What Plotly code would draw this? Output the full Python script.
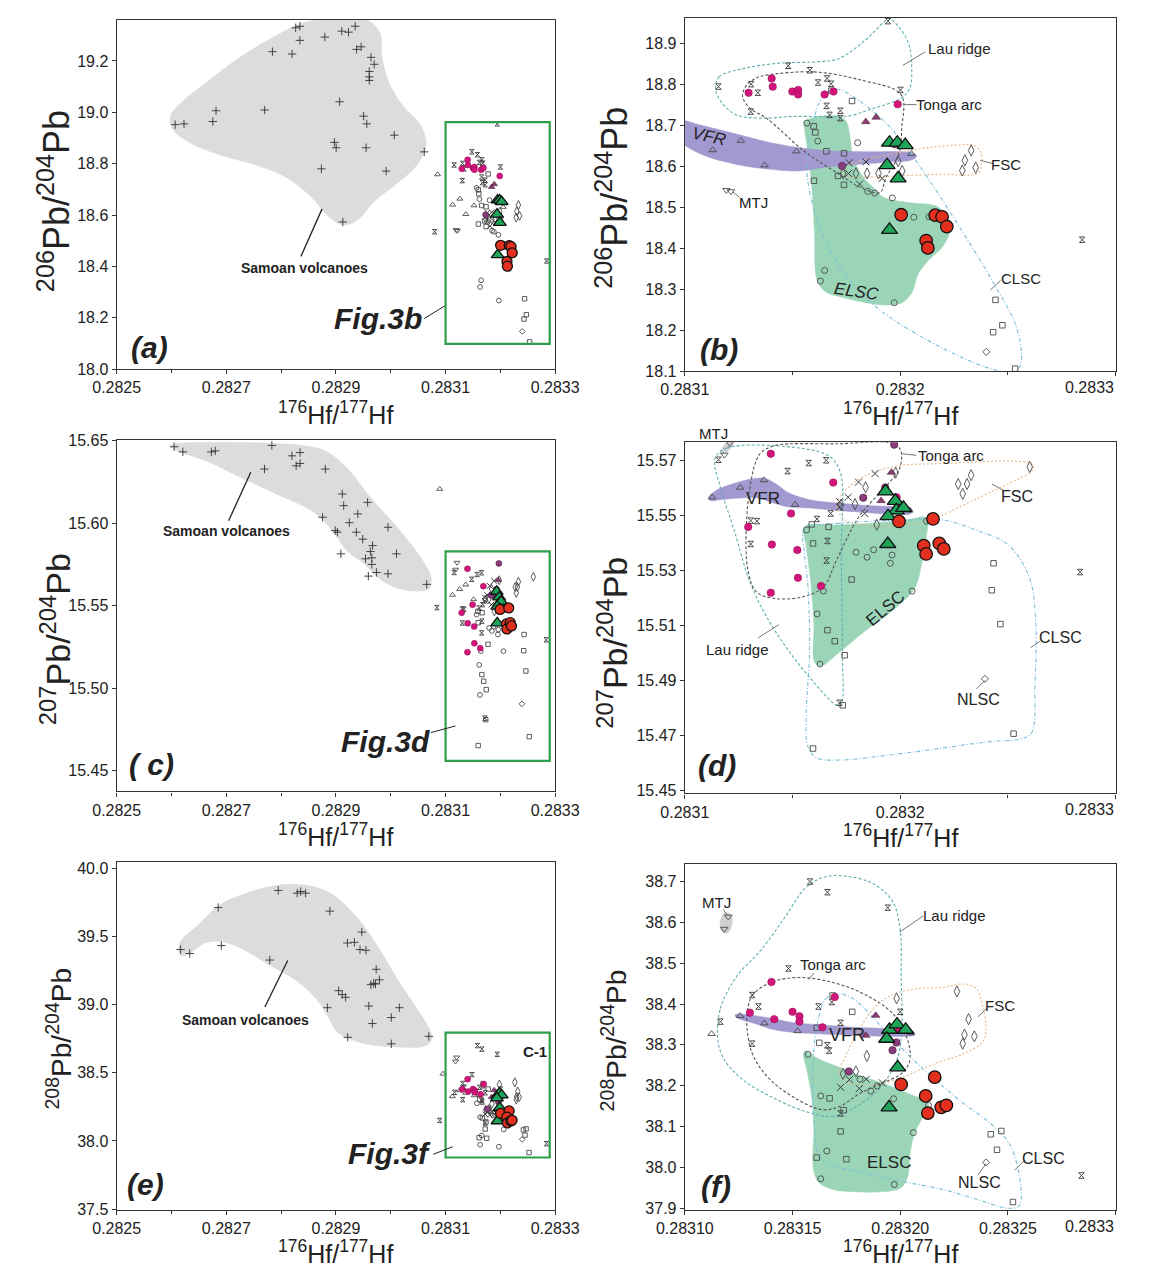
import plotly.graph_objects as go

FONT = "Liberation Sans, Arial, sans-serif"
TXT = "#222222"

# ======================= DATA: 206Pb/204Pb vs 176Hf/177Hf (panels a, b) =======================
samoan_hf_206 = [0.2826067, 0.2826228, 0.2826754, 0.2826812, 0.2827699, 0.2827841, 0.2828200, 0.2828265,
                 0.2828342, 0.2828342, 0.2828798, 0.2829107, 0.2829229, 0.2829351, 0.2829377, 0.2829460,
                 0.2829640, 0.2829698, 0.2829608, 0.2829608, 0.2829608, 0.2829068, 0.2829505, 0.2829563,
                 0.2828972, 0.2829004, 0.2829550, 0.2830064, 0.2830611, 0.2828734, 0.2829916, 0.2829126]
samoan_pb_206 = [18.952, 18.955, 18.964, 19.006, 19.009, 19.236, 19.227, 19.329,
                 19.335, 19.280, 19.293, 19.316, 19.312, 19.335, 19.245, 19.255,
                 19.214, 19.187, 19.159, 19.138, 19.124, 19.041, 18.985, 18.955,
                 18.883, 18.862, 18.862, 18.911, 18.846, 18.780, 18.771, 18.573]

tonga_hf_206 = [0.2831296, 0.2831403, 0.2831408, 0.2831499, 0.2831526, 0.2831526, 0.2831649, 0.2831690, 0.2831988]
tonga_pb_206 = [18.780, 18.815, 18.795, 18.783, 18.787, 18.776, 18.776, 18.783, 18.752]
pcirc_hf_206 = [0.2831730, 0.2831975]
pcirc_pb_206 = [18.601, 18.654]
ptri_hf_206 = [0.2831840, 0.2831888]
ptri_pb_206 = [18.709, 18.720]
green_hf_206 = [0.2831950, 0.2831986, 0.2832023, 0.2831939, 0.2831990, 0.2831950]
green_pb_206 = [18.658, 18.658, 18.652, 18.603, 18.571, 18.445]
red_hf_206 = [0.2832004, 0.2832162, 0.2832194, 0.2832216, 0.2832120, 0.2832128]
red_pb_206 = [18.482, 18.481, 18.477, 18.453, 18.419, 18.401]
vfr_hf_206 = [0.2831129, 0.2831260, 0.2831370, 0.2831518, 0.2832052, 0.2830854]
vfr_pb_206 = [18.640, 18.663, 18.603, 18.637, 18.631, 18.758]
mtj_hf_206 = [0.2831193, 0.2831214]
mtj_pb_206 = [18.542, 18.539]
lau_hf_206 = [0.2831156, 0.2831308, 0.2831339, 0.2831306, 0.2831480, 0.2831580, 0.2831618, 0.2831660, 0.2831679,
              0.2831658, 0.2831672, 0.2831722, 0.2831722, 0.2831943, 0.2832001, 0.2832844, 0.2830802]
lau_pb_206 = [18.795, 18.801, 18.780, 18.734, 18.846, 18.835, 18.805, 18.815, 18.802,
              18.748, 18.726, 18.736, 18.718, 18.955, 18.787, 18.421, 18.535]
xm_hf_206 = [0.2831762, 0.2831841, 0.2831760, 0.2831811, 0.2831916]
xm_pb_206 = [18.609, 18.611, 18.583, 18.557, 18.571]
elsc_hf_206 = [0.2831566, 0.2831617, 0.2831802, 0.2831849, 0.2831881, 0.2831963, 0.2832063, 0.2832133,
               0.2831649, 0.2831629, 0.2831972]
elsc_pb_206 = [18.706, 18.662, 18.658, 18.539, 18.535, 18.523, 18.476, 18.477, 18.346, 18.320, 18.267]
clsc_hf_206 = [0.2831598, 0.2831606, 0.2831657, 0.2831739, 0.2831711, 0.2831739, 0.2831599, 0.2831680,
               0.2831776, 0.2832442, 0.2832474, 0.2832431, 0.2832533]
clsc_pb_206 = [18.698, 18.683, 18.637, 18.632, 18.577, 18.555, 18.565, 18.785, 18.760, 18.274, 18.212, 18.195, 18.106]
fsc_hf_206 = [0.2831735, 0.2831794, 0.2831846, 0.2831899, 0.2831990, 0.2832009, 0.2832329, 0.2832300, 0.2832288, 0.2832350]
fsc_pb_206 = [18.583, 18.583, 18.583, 18.583, 18.613, 18.589, 18.639, 18.615, 18.590, 18.597]
nlsc_hf_206 = [0.2832399]
nlsc_pb_206 = [18.147]

# field outlines (206)
samoan_fld_hf_206 = [0.2825983, 0.2826176, 0.2826626, 0.2827269, 0.2827911, 0.2828425, 0.2829068, 0.2829582, 0.2829807,
                     0.2829839, 0.2829968, 0.2830225, 0.2830546, 0.2830643, 0.2830482, 0.2830096, 0.2829711, 0.2829389,
                     0.2829132, 0.2828875, 0.2828554, 0.2828104, 0.2827526, 0.2826883, 0.2826305, 0.2826015]
samoan_fld_pb_206 = [18.987, 19.038, 19.115, 19.217, 19.299, 19.350, 19.363, 19.357, 19.306,
                     19.217, 19.115, 19.025, 18.949, 18.873, 18.796, 18.720, 18.656, 18.580,
                     18.561, 18.592, 18.669, 18.745, 18.796, 18.834, 18.885, 18.936]
vfr_fld_hf_206 = [0.2830976, 0.2831080, 0.2831239, 0.2831398, 0.2831558, 0.2831717, 0.2831876, 0.2832004, 0.2832060,
                  0.2832076, 0.2832052, 0.2831956, 0.2831797, 0.2831637, 0.2831526, 0.2831398, 0.2831239, 0.2831080, 0.2830984]
vfr_fld_pb_206 = [18.710, 18.700, 18.679, 18.658, 18.644, 18.637, 18.636, 18.636, 18.633,
                  18.625, 18.616, 18.611, 18.605, 18.597, 18.589, 18.593, 18.605, 18.629, 18.662]
elsc_fld_hf_206 = [0.2831558, 0.2831621, 0.2831717, 0.2831749, 0.2831765, 0.2831781, 0.2831829, 0.2831876, 0.2831924,
                   0.2832036, 0.2832163, 0.2832211, 0.2832235, 0.2832195, 0.2832131, 0.2832084, 0.2832052, 0.2832004,
                   0.2831908, 0.2831813, 0.2831717, 0.2831653, 0.2831614, 0.2831602, 0.2831590, 0.2831566, 0.2831555]
elsc_fld_pb_206 = [18.710, 18.722, 18.722, 18.710, 18.678, 18.621, 18.573, 18.548, 18.524,
                   18.512, 18.504, 18.484, 18.452, 18.403, 18.371, 18.338, 18.290, 18.266,
                   18.262, 18.270, 18.282, 18.294, 18.322, 18.435, 18.548, 18.654, 18.694]
lau_fld_hf_206 = [0.2831143, 0.2831159, 0.2831271, 0.2831430, 0.2831622, 0.2831717, 0.2831845, 0.2831924, 0.2831948,
                  0.2831988, 0.2832036, 0.2832052, 0.2832044, 0.2832004, 0.2831876, 0.2831749, 0.2831637, 0.2831494,
                  0.2831367, 0.2831239, 0.2831167]
lau_fld_pb_206 = [18.791, 18.819, 18.839, 18.852, 18.856, 18.864, 18.912, 18.953, 18.961,
                  18.944, 18.904, 18.856, 18.791, 18.767, 18.742, 18.722, 18.722, 18.722,
                  18.718, 18.726, 18.759]
tonga_fld_hf_206 = [0.2831379, 0.2831599, 0.2831818, 0.2832004, 0.2832007, 0.2831993, 0.2831934, 0.2831905,
                    0.2831818, 0.2831716, 0.2831555, 0.2831379, 0.2831303, 0.2831268, 0.2831287, 0.2831335]
tonga_fld_pb_206 = [18.823, 18.831, 18.811, 18.775, 18.694, 18.629, 18.573, 18.536,
                    18.548, 18.581, 18.637, 18.718, 18.742, 18.771, 18.799, 18.817]
fsc_fld_hf_206 = [0.2831725, 0.2831813, 0.2831988, 0.2832116, 0.2832259, 0.2832339, 0.2832371, 0.2832378,
                  0.2832363, 0.2832323, 0.2832195, 0.2832004, 0.2831845, 0.2831749]
fsc_fld_pb_206 = [18.593, 18.613, 18.633, 18.645, 18.652, 18.652, 18.637, 18.605,
                  18.585, 18.579, 18.581, 18.577, 18.574, 18.577]
clsc_fld_hf_206 = [0.2831701, 0.2831813, 0.2831956, 0.2832116, 0.2832275, 0.2832434, 0.2832538, 0.2832562, 0.2832538,
                   0.2832434, 0.2832275, 0.2832068, 0.2831876, 0.2831717, 0.2831606, 0.2831566, 0.2831590, 0.2831637]
clsc_fld_pb_206 = [18.789, 18.759, 18.694, 18.581, 18.452, 18.314, 18.209, 18.128, 18.100,
                   18.104, 18.136, 18.193, 18.262, 18.355, 18.484, 18.597, 18.694, 18.767]

# ======================= DATA: 207Pb/204Pb vs 176Hf/177Hf (panels c, d) =======================
samoan_hf_207 = [0.2826047, 0.2826207, 0.2826727, 0.2826798, 0.2827831, 0.2827697, 0.2828197, 0.2828345, 0.2828274,
                 0.2828345, 0.2828807, 0.2829116, 0.2829141, 0.2828756, 0.2828987, 0.2829026, 0.2829244, 0.2829398,
                 0.2829372, 0.2829488, 0.2829578, 0.2829950, 0.2829668, 0.2829629, 0.2829655, 0.2829539, 0.2829655,
                 0.2829090, 0.2830104, 0.2829738, 0.2829950, 0.2829591, 0.2830657]
samoan_pb_207 = [15.6464, 15.6433, 15.6433, 15.6439, 15.6472, 15.6329, 15.6409, 15.6429, 15.6349,
                 15.6363, 15.6329, 15.6178, 15.6107, 15.6037, 15.5956, 15.5946, 15.6004, 15.6057,
                 15.5946, 15.5904, 15.6127, 15.5976, 15.5865, 15.5829, 15.5791, 15.5785, 15.5751,
                 15.5815, 15.5815, 15.5702, 15.5694, 15.5680, 15.5630]

tonga_hf_207 = [0.2831399, 0.2831689, 0.2831493, 0.2831294, 0.2831404, 0.2831522, 0.2831525, 0.2831632, 0.2831399, 0.2831983]
tonga_pb_207 = [15.5724, 15.5619, 15.5507, 15.5458, 15.5394, 15.5374, 15.5273, 15.5243, 15.5219, 15.5566]
pcirc_hf_207 = [0.2831972, 0.2831930, 0.2831828]
pcirc_pb_207 = [15.5757, 15.5601, 15.5564]
ptri_hf_207 = [0.2831959, 0.2831911]
ptri_pb_207 = [15.5656, 15.5553]
green_hf_207 = [0.2831932, 0.2831977, 0.2831982, 0.2832015, 0.2831943, 0.2831942]
green_pb_207 = [15.5587, 15.5553, 15.5518, 15.5527, 15.5497, 15.5396]
red_hf_207 = [0.2831994, 0.2832152, 0.2832109, 0.2832120, 0.2832181, 0.2832202]
red_pb_207 = [15.5478, 15.5487, 15.5390, 15.5360, 15.5398, 15.5378]
vfr_hf_207 = [0.2831126, 0.2831257, 0.2831367, 0.2831512, 0.2832042, 0.2830894]
vfr_pb_207 = [15.5566, 15.5601, 15.5628, 15.5539, 15.5518, 15.6208]
mtj_hf_207 = [0.2831184, 0.2831209]
mtj_pb_207 = [15.5720, 15.5762]
lau_hf_207 = [0.2831156, 0.2831575, 0.2831656, 0.2831477, 0.2831306, 0.2831335, 0.2831306, 0.2831613, 0.2831677,
              0.2831662, 0.2831658, 0.2831718, 0.2832835, 0.2830843]
lau_pb_207 = [15.5702, 15.5690, 15.5700, 15.5661, 15.5481, 15.5479, 15.5396, 15.5487, 15.5507,
              15.5407, 15.5336, 15.4819, 15.5294, 15.5489]
xm_hf_207 = [0.2831883, 0.2831806, 0.2831758, 0.2831718, 0.2831835, 0.2831718]
xm_pb_207 = [15.5652, 15.5621, 15.5566, 15.5550, 15.5507, 15.5530]
elsc_hf_207 = [0.2831565, 0.2831643, 0.2831614, 0.2831627, 0.2831795, 0.2831846, 0.2831876, 0.2831962,
               0.2831954, 0.2832055, 0.2832122]
elsc_pb_207 = [15.5447, 15.5225, 15.5142, 15.4960, 15.5366, 15.5348, 15.5375, 15.5356, 15.5326, 15.5225, 15.5479]
clsc_hf_207 = [0.2831589, 0.2831595, 0.2831667, 0.2831774, 0.2831662, 0.2831696, 0.2831742, 0.2831733, 0.2831595,
               0.2832433, 0.2832425, 0.2832465, 0.2832526]
clsc_pb_207 = [15.5467, 15.5398, 15.5458, 15.5267, 15.5083, 15.5043, 15.4992, 15.4810, 15.4653,
               15.5326, 15.5228, 15.5105, 15.4707]
fsc_hf_207 = [0.2831725, 0.2831790, 0.2831839, 0.2831891, 0.2831978, 0.2832269, 0.2832310, 0.2832329, 0.2832290, 0.2832601]
fsc_pb_207 = [15.5538, 15.5541, 15.5602, 15.5466, 15.5655, 15.5614, 15.5614, 15.5646, 15.5578, 15.5676]
nlsc_hf_207 = [0.2832393]
nlsc_pb_207 = [15.4906]

samoan_fld_hf_207 = [0.2825982, 0.2826111, 0.2826624, 0.2827266, 0.2827908, 0.2828422, 0.2828807, 0.2829193, 0.2829578,
                     0.2829899, 0.2830220, 0.2830541, 0.2830734, 0.2830701, 0.2830477, 0.2830156, 0.2829835, 0.2829514,
                     0.2829193, 0.2828936, 0.2828551, 0.2827908, 0.2827266, 0.2826624, 0.2826111]
samoan_fld_pb_207 = [15.6470, 15.6484, 15.6490, 15.6490, 15.6484, 15.6470, 15.6439, 15.6339, 15.6178,
                     15.6057, 15.5936, 15.5795, 15.5674, 15.5604, 15.5590, 15.5604, 15.5654, 15.5755,
                     15.5835, 15.5956, 15.6077, 15.6178, 15.6278, 15.6379, 15.6439]
vfr_fld_hf_207 = [0.2831112, 0.2831148, 0.2831228, 0.2831324, 0.2831372, 0.2831420, 0.2831484, 0.2831579, 0.2831707,
                  0.2831867, 0.2832026, 0.2832055, 0.2832050, 0.2831994, 0.2831867, 0.2831707, 0.2831579, 0.2831484,
                  0.2831404, 0.2831340, 0.2831260, 0.2831164, 0.2831117]
vfr_fld_pb_207 = [15.5566, 15.5592, 15.5616, 15.5634, 15.5634, 15.5616, 15.5581, 15.5557, 15.5545,
                  15.5535, 15.5530, 15.5523, 15.5507, 15.5503, 15.5509, 15.5518, 15.5527, 15.5530,
                  15.5547, 15.5563, 15.5563, 15.5557, 15.5554]
elsc_fld_hf_207 = [0.2831555, 0.2831707, 0.2831867, 0.2832026, 0.2832122, 0.2832119, 0.2832098, 0.2832066,
                   0.2831978, 0.2831835, 0.2831707, 0.2831635, 0.2831603, 0.2831599, 0.2831583, 0.2831563]
elsc_fld_pb_207 = [15.5459, 15.5465, 15.5471, 15.5483, 15.5491, 15.5413, 15.5318, 15.5234,
                   15.5163, 15.5079, 15.4996, 15.4954, 15.4966, 15.5103, 15.5270, 15.5390]
lau_fld_hf_207 = [0.2831140, 0.2831196, 0.2831547, 0.2831675, 0.2831723, 0.2831726, 0.2831731, 0.2831726,
                  0.2831707, 0.2831579, 0.2831420, 0.2831308, 0.2831228, 0.2831164]
lau_fld_pb_207 = [15.5706, 15.5745, 15.5743, 15.5712, 15.5652, 15.5366, 15.5007, 15.4816,
                  15.4810, 15.4912, 15.5079, 15.5246, 15.5449, 15.5604]
tonga_fld_hf_207 = [0.2831356, 0.2831420, 0.2831707, 0.2831962, 0.2832001, 0.2831996, 0.2831924, 0.2831808, 0.2831707,
                    0.2831642, 0.2831547, 0.2831420, 0.2831332, 0.2831292, 0.2831287, 0.2831308, 0.2831332]
tonga_fld_pb_207 = [15.5730, 15.5754, 15.5760, 15.5762, 15.5738, 15.5668, 15.5598, 15.5495, 15.5342,
                    15.5239, 15.5204, 15.5198, 15.5222, 15.5306, 15.5485, 15.5628, 15.5700]
fsc_fld_hf_207 = [0.2831707, 0.2831803, 0.2831962, 0.2832186, 0.2832601, 0.2832620, 0.2832601, 0.2832505,
                  0.2832345, 0.2832186, 0.2832106, 0.2831946, 0.2831835, 0.2831739]
fsc_fld_pb_207 = [15.5545, 15.5628, 15.5676, 15.5688, 15.5690, 15.5674, 15.5655, 15.5616,
                  15.5557, 15.5497, 15.5473, 15.5461, 15.5464, 15.5485]
clsc_fld_hf_207 = [0.2831555, 0.2831707, 0.2832026, 0.2832186, 0.2832345, 0.2832505, 0.2832601, 0.2832629, 0.2832625,
                   0.2832609, 0.2832553, 0.2832425, 0.2832026, 0.2831707, 0.2831611, 0.2831571, 0.2831563, 0.2831579,
                   0.2831571, 0.2831555]
clsc_fld_pb_207 = [15.5449, 15.5471, 15.5483, 15.5485, 15.5449, 15.5390, 15.5270, 15.5103, 15.4888,
                   15.4709, 15.4687, 15.4679, 15.4637, 15.4611, 15.4619, 15.4661, 15.4769, 15.5007,
                   15.5246, 15.5366]
mtj_fld_hf_207 = [0.2831164, 0.2831184, 0.2831215, 0.2831225, 0.2831196]
mtj_fld_pb_207 = [15.5724, 15.5757, 15.5774, 15.5764, 15.5730]

# ======================= DATA: 208Pb/204Pb vs 176Hf/177Hf (panels e, f) =======================
samoan_hf_208 = [0.2826166, 0.2826333, 0.2826851, 0.2826909, 0.2827793, 0.2827947, 0.2828293, 0.2828357, 0.2828447,
                 0.2828889, 0.2829472, 0.2829209, 0.2829337, 0.2829439, 0.2829548, 0.2829734, 0.2829792, 0.2829638,
                 0.2829689, 0.2829721, 0.2829049, 0.2829113, 0.2829177, 0.2828844, 0.2829600, 0.2829664, 0.2830157,
                 0.2830010, 0.2829215, 0.2830010, 0.2830695]
samoan_pb_208 = [39.405, 39.376, 39.713, 39.434, 39.328, 39.839, 39.819, 39.831, 39.819,
                 39.687, 39.533, 39.453, 39.458, 39.405, 39.400, 39.260, 39.183, 39.147,
                 39.157, 39.152, 39.103, 39.074, 39.055, 38.978, 38.990, 38.862, 38.978,
                 38.906, 38.761, 38.713, 38.768]

tonga_hf_208 = [0.2831402, 0.2831302, 0.2831415, 0.2831500, 0.2831532, 0.2831532, 0.2831639, 0.2831696, 0.2831996]
tonga_pb_208 = [38.454, 38.379, 38.363, 38.381, 38.370, 38.357, 38.343, 38.417, 38.338]
pcirc_hf_208 = [0.2831761, 0.2831982, 0.2831964]
pcirc_pb_208 = [38.235, 38.306, 38.287]
ptri_hf_208 = [0.2831886, 0.2831840]
ptri_pb_208 = [38.372, 38.323]
green_hf_208 = [0.2831950, 0.2831985, 0.2832025, 0.2831937, 0.2831988, 0.2831948]
green_pb_208 = [38.337, 38.350, 38.337, 38.315, 38.245, 38.147]
red_hf_208 = [0.2832004, 0.2832160, 0.2832118, 0.2832128, 0.2832190, 0.2832214]
red_pb_208 = [38.203, 38.221, 38.175, 38.133, 38.147, 38.152]
vfr_hf_208 = [0.2831124, 0.2831257, 0.2831369, 0.2831523, 0.2832049, 0.2830951]
vfr_pb_208 = [38.327, 38.371, 38.353, 38.334, 38.329, 38.493]
mtj_hf_208 = [0.2831202, 0.2831183]
mtj_pb_208 = [38.614, 38.584]
lau_hf_208 = [0.2831581, 0.2831662, 0.2831942, 0.2831481, 0.2831313, 0.2831342, 0.2831165, 0.2831313, 0.2831620,
              0.2831682, 0.2831723, 0.2831661, 0.2831670, 0.2832000, 0.2831723, 0.2832841, 0.2830894]
lau_pb_208 = [38.700, 38.674, 38.636, 38.487, 38.422, 38.394, 38.357, 38.303, 38.394,
              38.405, 38.354, 38.299, 38.286, 38.381, 38.132, 37.980, 38.151]
xm_hf_208 = [0.2831764, 0.2831842, 0.2831723, 0.2831810, 0.2831917]
xm_pb_208 = [38.215, 38.216, 38.196, 38.193, 38.207]
elsc_hf_208 = [0.2831572, 0.2831631, 0.2831659, 0.2831631, 0.2831972, 0.2832061, 0.2831969, 0.2832131,
               0.2831813, 0.2831863, 0.2831893]
elsc_pb_208 = [38.277, 38.175, 38.040, 37.972, 37.958, 38.085, 38.168, 38.152, 38.216, 38.187, 38.199]
clsc_hf_208 = [0.2831686, 0.2831777, 0.2831612, 0.2831624, 0.2831672, 0.2831737, 0.2831723, 0.2831612, 0.2831750,
               0.2832420, 0.2832469, 0.2832449, 0.2832523]
clsc_pb_208 = [38.421, 38.381, 38.342, 38.305, 38.169, 38.140, 38.088, 38.024, 38.020,
               38.081, 38.089, 38.043, 37.915]
fsc_hf_208 = [0.2831983, 0.2831845, 0.2831734, 0.2831794, 0.2832263, 0.2832317, 0.2832298, 0.2832344, 0.2832290]
fsc_pb_208 = [38.414, 38.273, 38.229, 38.235, 38.431, 38.363, 38.325, 38.321, 38.303]
nlsc_hf_208 = [0.2832398]
nlsc_pb_208 = [38.012]

samoan_fld_hf_208 = [0.2826134, 0.2826166, 0.2826486, 0.2826871, 0.2827255, 0.2827896, 0.2828408, 0.2828857, 0.2829177,
                     0.2829497, 0.2829818, 0.2830138, 0.2830458, 0.2830714, 0.2830746, 0.2830586, 0.2830138, 0.2829497,
                     0.2829049, 0.2828857, 0.2828664, 0.2828280, 0.2827767, 0.2827255, 0.2826871, 0.2826614, 0.2826294,
                     0.2826166]
samoan_fld_pb_208 = [39.393, 39.465, 39.586, 39.730, 39.803, 39.875, 39.880, 39.827, 39.730,
                     39.586, 39.393, 39.176, 38.983, 38.814, 38.742, 38.693, 38.689, 38.718,
                     38.790, 38.910, 39.031, 39.176, 39.296, 39.417, 39.465, 39.453, 39.369,
                     39.357]
vfr_fld_hf_208 = [0.2831234, 0.2831289, 0.2831400, 0.2831496, 0.2831639, 0.2831797, 0.2831956, 0.2832060, 0.2832068,
                  0.2832036, 0.2831877, 0.2831718, 0.2831591, 0.2831496, 0.2831400, 0.2831321, 0.2831257, 0.2831235]
vfr_fld_pb_208 = [38.374, 38.374, 38.365, 38.355, 38.349, 38.343, 38.339, 38.334, 38.325,
                  38.321, 38.322, 38.325, 38.328, 38.331, 38.339, 38.353, 38.363, 38.369]
elsc_fld_hf_208 = [0.2831556, 0.2831623, 0.2831718, 0.2831813, 0.2831925, 0.2832036, 0.2832131, 0.2832115, 0.2832068,
                   0.2832044, 0.2832036, 0.2832004, 0.2831909, 0.2831797, 0.2831686, 0.2831623, 0.2831599, 0.2831594,
                   0.2831599, 0.2831591, 0.2831567, 0.2831551]
elsc_fld_pb_208 = [38.285, 38.265, 38.245, 38.225, 38.205, 38.181, 38.157, 38.133, 38.085,
                   38.029, 37.981, 37.950, 37.940, 37.940, 37.946, 37.962, 37.989, 38.029,
                   38.093, 38.165, 38.237, 38.273]
lau_fld_hf_208 = [0.2831154, 0.2831165, 0.2831241, 0.2831353, 0.2831464, 0.2831559, 0.2831654, 0.2831766, 0.2831877,
                  0.2831964, 0.2832000, 0.2832004, 0.2832007, 0.2831988, 0.2831909, 0.2831797, 0.2831686, 0.2831559,
                  0.2831400, 0.2831273, 0.2831186]
lau_fld_pb_208 = [38.309, 38.389, 38.468, 38.532, 38.612, 38.684, 38.712, 38.712, 38.694,
                  38.652, 38.580, 38.468, 38.349, 38.269, 38.197, 38.149, 38.125, 38.137,
                  38.173, 38.213, 38.261]
tonga_fld_hf_208 = [0.2831289, 0.2831313, 0.2831400, 0.2831527, 0.2831686, 0.2831845, 0.2831972, 0.2832036, 0.2832044,
                    0.2832004, 0.2831909, 0.2831813, 0.2831718, 0.2831639, 0.2831527, 0.2831400, 0.2831321, 0.2831292]
tonga_fld_pb_208 = [38.373, 38.421, 38.453, 38.465, 38.453, 38.421, 38.373, 38.309, 38.261,
                    38.229, 38.205, 38.181, 38.149, 38.141, 38.165, 38.213, 38.269, 38.325]
fsc_fld_hf_208 = [0.2831718, 0.2831750, 0.2831813, 0.2831877, 0.2831956, 0.2832068, 0.2832195, 0.2832290, 0.2832354,
                  0.2832385, 0.2832398, 0.2832385, 0.2832290, 0.2832195, 0.2832083, 0.2831972, 0.2831845, 0.2831750]
fsc_fld_pb_208 = [38.229, 38.277, 38.341, 38.389, 38.421, 38.437, 38.441, 38.449, 38.437,
                  38.389, 38.341, 38.309, 38.277, 38.261, 38.237, 38.213, 38.201, 38.209]
clsc_fld_hf_208 = [0.2831607, 0.2831654, 0.2831718, 0.2831782, 0.2831877, 0.2832004, 0.2832131, 0.2832274, 0.2832433,
                   0.2832512, 0.2832560, 0.2832552, 0.2832496, 0.2832354, 0.2832195, 0.2832004, 0.2831813, 0.2831686,
                   0.2831623, 0.2831599, 0.2831594]
clsc_fld_pb_208 = [38.325, 38.413, 38.425, 38.413, 38.365, 38.293, 38.229, 38.165, 38.101,
                   38.053, 37.950, 37.906, 37.900, 37.922, 37.946, 37.966, 37.989, 38.005,
                   38.029, 38.109, 38.229]
mtj_fld_hf_208 = [0.2831186, 0.2831214, 0.2831218, 0.2831197, 0.2831170, 0.2831165]
mtj_fld_pb_208 = [38.624, 38.619, 38.592, 38.574, 38.579, 38.604]

# axis ranges (overview, zoom)
ov_x_range = [0.2825, 0.2833]
zm_x_range = [0.2831, 0.2833]
y_range_a, y_range_b = [18.0, 19.36], [18.1, 18.963]
y_range_c, y_range_d = [15.4375, 15.6504], [15.449, 15.5766]
y_range_e, y_range_f = [37.495, 40.044], [37.896, 38.742]
box_x_right = 0.28329
box_y_ab = [18.098, 18.962]
box_y_cd = [15.456, 15.583]
box_y_ef = [37.879, 38.795]

# ======================= FIGURE =======================
fig = go.Figure()


def axname(ax):
    return ("x" if ax == 1 else f"x{ax}"), ("y" if ax == 1 else f"y{ax}")


def add(x, y, ax, **kw):
    xa, ya = axname(ax)
    fig.add_trace(go.Scatter(x=x, y=y, xaxis=xa, yaxis=ya, showlegend=False, hoverinfo="skip", **kw))


def field(x, y, ax, fill=None, line=None, dash=None, width=1.1):
    xs, ys = list(x) + [x[0]], list(y) + [y[0]]
    if fill:
        add(xs, ys, ax, mode="lines", fill="toself", fillcolor=fill,
            line=dict(width=0.5, color=fill, shape="spline", smoothing=1.0))
    else:
        add(xs, ys, ax, mode="lines", line=dict(width=width, color=line, dash=dash, shape="spline", smoothing=1.0))


def pts(ax, x, y, symbol, size, color, lw=1.0, lc=None):
    add(x, y, ax, mode="markers",
        marker=dict(symbol=symbol, size=size, color=color, line=dict(width=lw, color=lc or color)))


def samples(ax, s, k):
    g = "#4a4a4a"
    pts(ax, s["clsc"][0], s["clsc"][1], "square-open", 5.5 * k, g, 0.9)
    pts(ax, s["elsc"][0], s["elsc"][1], "circle-open", 6 * k, g, 0.9)
    pts(ax, s["fsc"][0], s["fsc"][1], "diamond-tall-open", 8 * k, g, 0.9)
    pts(ax, s["nlsc"][0], s["nlsc"][1], "diamond-open", 5.5 * k, g, 0.9)
    pts(ax, s["vfr"][0], s["vfr"][1], "triangle-up-open", 6.5 * k, g, 0.9)
    pts(ax, s["mtj"][0], s["mtj"][1], "triangle-down-open", 6.5 * k, g, 0.9)
    pts(ax, s["lau"][0], s["lau"][1], "hourglass-open", 5.5 * k, "#3a3a3a", 0.9)
    pts(ax, s["xm"][0], s["xm"][1], "x-thin-open", 7 * k, "#3a3a3a", 1.0)
    pts(ax, s["tonga"][0], s["tonga"][1], "circle", 7.5 * k, "#D3157B", 0.5, "#8a0d50")
    pts(ax, s["pc"][0], s["pc"][1], "circle", 7.5 * k, "#8B3C7D", 0.5, "#3a1a35")
    pts(ax, s["pt"][0], s["pt"][1], "triangle-up", 7.5 * k, "#8B3C6E", 0.5, "#3a1a35")
    pts(ax, s["green"][0], s["green"][1], "triangle-up", 14 * k, "#1FA55A", 1.3, "#111111")
    pts(ax, s["red"][0], s["red"][1], "circle", 12.5 * k, "#E3301E", 1.3, "#111111")


sys206 = dict(tonga=(tonga_hf_206, tonga_pb_206), pc=(pcirc_hf_206, pcirc_pb_206), pt=(ptri_hf_206, ptri_pb_206),
              green=(green_hf_206, green_pb_206), red=(red_hf_206, red_pb_206), vfr=(vfr_hf_206, vfr_pb_206),
              mtj=(mtj_hf_206, mtj_pb_206), lau=(lau_hf_206, lau_pb_206), xm=(xm_hf_206, xm_pb_206),
              elsc=(elsc_hf_206, elsc_pb_206), clsc=(clsc_hf_206, clsc_pb_206), fsc=(fsc_hf_206, fsc_pb_206),
              nlsc=(nlsc_hf_206, nlsc_pb_206))
sys207 = dict(tonga=(tonga_hf_207, tonga_pb_207), pc=(pcirc_hf_207, pcirc_pb_207), pt=(ptri_hf_207, ptri_pb_207),
              green=(green_hf_207, green_pb_207), red=(red_hf_207, red_pb_207), vfr=(vfr_hf_207, vfr_pb_207),
              mtj=(mtj_hf_207, mtj_pb_207), lau=(lau_hf_207, lau_pb_207), xm=(xm_hf_207, xm_pb_207),
              elsc=(elsc_hf_207, elsc_pb_207), clsc=(clsc_hf_207, clsc_pb_207), fsc=(fsc_hf_207, fsc_pb_207),
              nlsc=(nlsc_hf_207, nlsc_pb_207))
sys208 = dict(tonga=(tonga_hf_208, tonga_pb_208), pc=(pcirc_hf_208, pcirc_pb_208), pt=(ptri_hf_208, ptri_pb_208),
              green=(green_hf_208, green_pb_208), red=(red_hf_208, red_pb_208), vfr=(vfr_hf_208, vfr_pb_208),
              mtj=(mtj_hf_208, mtj_pb_208), lau=(lau_hf_208, lau_pb_208), xm=(xm_hf_208, xm_pb_208),
              elsc=(elsc_hf_208, elsc_pb_208), clsc=(clsc_hf_208, clsc_pb_208), fsc=(fsc_hf_208, fsc_pb_208),
              nlsc=(nlsc_hf_208, nlsc_pb_208))

SAM_FILL = "#DCDCDC"
VFR_FILL = "#A199CF"
ELSC_FILL = "#9BD5B8"
LAU_C = "#5FAEB0"
TONGA_C = "#555555"
FSC_C = "#E5B98C"
CLSC_C = "#7DBFD9"
MTJ_FILL = "#CFCFCF"

# ---- overview panels a, c, e ----
for ax, sx, sy, fx, fy, s in [
    (1, samoan_hf_206, samoan_pb_206, samoan_fld_hf_206, samoan_fld_pb_206, sys206),
    (3, samoan_hf_207, samoan_pb_207, samoan_fld_hf_207, samoan_fld_pb_207, sys207),
    (5, samoan_hf_208, samoan_pb_208, samoan_fld_hf_208, samoan_fld_pb_208, sys208),
]:
    field(fx, fy, ax, fill=SAM_FILL)
    pts(ax, sx, sy, "cross-thin-open", 6, "#333333", 0.9)
    samples(ax, s, 0.8)

# ---- zoom panels b, d, f ----
zoom_fields = [
    (2, sys206, dict(vfr=(vfr_fld_hf_206, vfr_fld_pb_206), elsc=(elsc_fld_hf_206, elsc_fld_pb_206),
                     lau=(lau_fld_hf_206, lau_fld_pb_206), tonga=(tonga_fld_hf_206, tonga_fld_pb_206),
                     fsc=(fsc_fld_hf_206, fsc_fld_pb_206), clsc=(clsc_fld_hf_206, clsc_fld_pb_206))),
    (4, sys207, dict(vfr=(vfr_fld_hf_207, vfr_fld_pb_207), elsc=(elsc_fld_hf_207, elsc_fld_pb_207),
                     lau=(lau_fld_hf_207, lau_fld_pb_207), tonga=(tonga_fld_hf_207, tonga_fld_pb_207),
                     fsc=(fsc_fld_hf_207, fsc_fld_pb_207), clsc=(clsc_fld_hf_207, clsc_fld_pb_207),
                     mtj=(mtj_fld_hf_207, mtj_fld_pb_207))),
    (6, sys208, dict(vfr=(vfr_fld_hf_208, vfr_fld_pb_208), elsc=(elsc_fld_hf_208, elsc_fld_pb_208),
                     lau=(lau_fld_hf_208, lau_fld_pb_208), tonga=(tonga_fld_hf_208, tonga_fld_pb_208),
                     fsc=(fsc_fld_hf_208, fsc_fld_pb_208), clsc=(clsc_fld_hf_208, clsc_fld_pb_208),
                     mtj=(mtj_fld_hf_208, mtj_fld_pb_208))),
]
for ax, s, f in zoom_fields:
    field(*f["elsc"], ax, fill=ELSC_FILL)
    field(*f["vfr"], ax, fill=VFR_FILL)
    if "mtj" in f:
        field(*f["mtj"], ax, fill=MTJ_FILL)
    field(*f["lau"], ax, line=LAU_C, dash="3px,2px")
    field(*f["tonga"], ax, line=TONGA_C, dash="3px,2px")
    field(*f["fsc"], ax, line=FSC_C, dash="2px,2px")
    field(*f["clsc"], ax, line=CLSC_C, dash="4px,2px,1px,2px")
    samples(ax, s, 1.0)

# ======================= AXES =======================
W, H = 1155, 1278
L0, L1 = 92, 552      # left column frame (px)
R0, R1 = 688, 1140    # right column frame (px)
ROWS = [(12, 366), (438, 794), (866, 1218)]     # left column frame top/bottom (px)
ROWS_R = [(10, 368), (440, 796), (868, 1218)]   # right column frame top/bottom (px)


def px_dom_x(a, b):
    return [a / W, b / W]


def px_dom_y(top, bottom):
    return [1 - bottom / H, 1 - top / H]


tickfont = dict(family=FONT, size=16, color=TXT)
axis_common = dict(showline=True, linecolor="#333333", linewidth=1.3, mirror=True, showgrid=False, zeroline=False,
                   ticks="outside", ticklen=4, tickwidth=1, tickcolor="#333333", tickfont=tickfont)

ov_ticks = [0.2825, 0.2827, 0.2829, 0.2831, 0.2833]
ov_minor = [0.2826, 0.2828, 0.2830, 0.2832]
zm_ticks = [0.2831, 0.2832, 0.2833]
zm_text = ["0.2831", "0.2832", ""]          # last label drawn right-aligned below
zm_minor = [0.28315, 0.28325]
f_ticks = [0.28310, 0.28315, 0.28320, 0.28325, 0.28330]
f_text = ["0.28310", "0.28315", "0.28320", "0.28325", ""]


def xaxis(dom, rng, anchor, tv, tt, minor):
    d = dict(axis_common, domain=dom, range=rng, anchor=anchor, tickmode="array", tickvals=tv, ticktext=tt)
    if minor:
        d["minor"] = dict(tickmode="array", tickvals=minor, ticks="outside", ticklen=3, tickcolor="#333333")
    return d


def yaxis(dom, rng, anchor, tv, fmt):
    return dict(axis_common, domain=dom, range=rng, anchor=anchor, tickmode="array", tickvals=tv,
                ticktext=[format(v, fmt) for v in tv])


LX, RX = px_dom_x(L0, L1), px_dom_x(R0, R1)
layout_axes = dict(
    xaxis=xaxis(LX, ov_x_range, "y", ov_ticks, [f"{v:.4f}" for v in ov_ticks], ov_minor),
    yaxis=yaxis(px_dom_y(*ROWS[0]), y_range_a, "x", [18.0, 18.2, 18.4, 18.6, 18.8, 19.0, 19.2], ".1f"),
    xaxis2=xaxis(RX, zm_x_range, "y2", zm_ticks, zm_text, zm_minor),
    yaxis2=yaxis(px_dom_y(*ROWS_R[0]), y_range_b, "x2", [18.1, 18.2, 18.3, 18.4, 18.5, 18.6, 18.7, 18.8, 18.9], ".1f"),
    xaxis3=xaxis(LX, ov_x_range, "y3", ov_ticks, [f"{v:.4f}" for v in ov_ticks], ov_minor),
    yaxis3=yaxis(px_dom_y(*ROWS[1]), y_range_c, "x3", [15.45, 15.50, 15.55, 15.60, 15.65], ".2f"),
    xaxis4=xaxis(RX, zm_x_range, "y4", zm_ticks, zm_text, zm_minor),
    yaxis4=yaxis(px_dom_y(*ROWS_R[1]), y_range_d, "x4", [15.45, 15.47, 15.49, 15.51, 15.53, 15.55, 15.57], ".2f"),
    xaxis5=xaxis(LX, ov_x_range, "y5", ov_ticks, [f"{v:.4f}" for v in ov_ticks], ov_minor),
    yaxis5=yaxis(px_dom_y(*ROWS[2]), y_range_e, "x5", [37.5, 38.0, 38.5, 39.0, 39.5, 40.0], ".1f"),
    xaxis6=xaxis(RX, zm_x_range, "y6", f_ticks, f_text, None),
    yaxis6=yaxis(px_dom_y(*ROWS_R[2]), y_range_f, "x6", [37.9, 38.0, 38.1, 38.2, 38.3, 38.4, 38.5, 38.6, 38.7], ".1f"),
)

# ======================= SHAPES (inset boxes, leader lines) =======================
shapes = []
for ax, by in [(1, box_y_ab), (3, box_y_cd), (5, box_y_ef)]:
    xa, ya = axname(ax)
    shapes.append(dict(type="rect", xref=xa, yref=ya, x0=zm_x_range[0], x1=box_x_right, y0=by[0], y1=by[1],
                       line=dict(color="#2E9E4A", width=2.2)))


def leader(ax, x0, y0, x1, y1, color="#222222", w=1.0):
    xa, ya = axname(ax)
    shapes.append(dict(type="line", xref=xa, yref=ya, x0=x0, y0=y0, x1=x1, y1=y1, line=dict(color=color, width=w)))


leader(1, 0.2828361, 18.439, 0.2828747, 18.624, w=1.3)
leader(1, 0.2830611, 18.197, 0.2830983, 18.246)
leader(2, 0.2832012, 18.847, 0.2832116, 18.880, "#777777")
leader(2, 0.2832012, 18.751, 0.2832076, 18.751, "#777777")
leader(2, 0.2831223, 18.538, 0.2831255, 18.524, "#777777")
leader(2, 0.2832371, 18.615, 0.2832431, 18.607, "#777777")
leader(2, 0.2832418, 18.298, 0.2832466, 18.322, "#777777")
leader(3, 0.2827042, 15.6016, 0.2827446, 15.6309, w=1.3)
leader(3, 0.2830733, 15.4732, 0.2831183, 15.4772)
leader(4, 0.2832010, 15.5724, 0.2832074, 15.5718, "#777777")
leader(4, 0.2832425, 15.5614, 0.2832481, 15.5590, "#777777")
leader(4, 0.2831340, 15.5055, 0.2831436, 15.5103, "#777777")
leader(4, 0.2832604, 15.5019, 0.2832649, 15.5043, "#777777")
leader(4, 0.2832353, 15.4870, 0.2832393, 15.4900, "#777777")
leader(5, 0.2827703, 38.983, 0.2828120, 39.325, w=1.3)
leader(5, 0.2830778, 37.903, 0.2831131, 37.958)
leader(6, 0.2831178, 38.632, 0.2831199, 38.616, "#777777")
leader(6, 0.2831996, 38.576, 0.2832107, 38.616, "#777777")
leader(6, 0.2831575, 38.460, 0.2831599, 38.476, "#777777")
leader(6, 0.2832361, 38.369, 0.2832401, 38.389, "#777777")
leader(6, 0.2832361, 37.981, 0.2832398, 38.009, "#777777")
leader(6, 0.2832531, 37.993, 0.2832576, 38.017, "#777777")

# ======================= ANNOTATIONS =======================
ann = []


def txt(ax, x, y, text, size=15, bold=False, italic=False, angle=0, color=TXT, xanchor="center"):
    xa, ya = axname(ax)
    t = text
    if bold:
        t = f"<b>{t}</b>"
    if italic:
        t = f"<i>{t}</i>"
    ann.append(dict(xref=xa, yref=ya, x=x, y=y, text=t, showarrow=False, textangle=angle, xanchor=xanchor,
                    yanchor="middle", font=dict(family=FONT, size=size, color=color)))


def ptxt(xp, yp, text, size, angle=0, xanchor="center", yanchor="middle"):
    ann.append(dict(xref="paper", yref="paper", x=xp / W, y=1 - yp / H, text=text, showarrow=False,
                    textangle=angle, xanchor=xanchor, yanchor=yanchor,
                    font=dict(family=FONT, size=size, color=TXT)))


# panel a
txt(1, 0.2828425, 18.395, "Samoan volcanoes", 14, bold=True)
txt(1, 0.2829775, 18.197, "Fig.3b", 30, bold=True, italic=True)
txt(1, 0.2825598, 18.083, "(a)", 30, bold=True, italic=True)
# panel b
txt(2, 0.2832275, 18.888, "Lau ridge", 15)
txt(2, 0.2832227, 18.751, "Tonga arc", 15)
txt(2, 0.2831112, 18.672, "VFR", 17, italic=True, angle=12)
txt(2, 0.2831319, 18.512, "MTJ", 15)
txt(2, 0.2832490, 18.605, "FSC", 15)
txt(2, 0.2831797, 18.294, "ELSC", 17, italic=True, angle=8)
txt(2, 0.2832562, 18.326, "CLSC", 15)
txt(2, 0.2831159, 18.153, "(b)", 30, bold=True, italic=True)
# panel c
txt(3, 0.2827010, 15.5956, "Samoan volcanoes", 14, bold=True)
txt(3, 0.2829899, 15.4677, "Fig.3d", 30, bold=True, italic=True)
txt(3, 0.2825629, 15.4536, "( c)", 30, bold=True, italic=True)
# panel d
ptxt(R0 + 30, ROWS_R[1][0] - 9, "MTJ", 15)
txt(4, 0.2832234, 15.5718, "Tonga arc", 15)
txt(4, 0.2831364, 15.5563, "VFR", 17)
txt(4, 0.2832540, 15.5569, "FSC", 16)
txt(4, 0.2831930, 15.5163, "ELSC", 17, angle=-40)
txt(4, 0.2831244, 15.5013, "Lau ridge", 15)
txt(4, 0.2832744, 15.5058, "CLSC", 16)
txt(4, 0.2832361, 15.4831, "NLSC", 16)
txt(4, 0.2831148, 15.4590, "(d)", 30, bold=True, italic=True)
# panel e
txt(5, 0.2827351, 38.886, "Samoan volcanoes", 14, bold=True)
txt(5, 0.2832636, 38.657, "C-1", 15, bold=True)
txt(5, 0.2829978, 37.910, "Fig.3f", 30, bold=True, italic=True)
txt(5, 0.2825525, 37.681, "(e)", 30, bold=True, italic=True)
# panel f
txt(6, 0.2831146, 38.650, "MTJ", 15)
txt(6, 0.2832250, 38.616, "Lau ridge", 15)
txt(6, 0.2831686, 38.496, "Tonga arc", 15)
txt(6, 0.2832465, 38.397, "FSC", 15)
txt(6, 0.2831753, 38.323, "VFR", 18)
txt(6, 0.2831948, 38.013, "ELSC", 17)
txt(6, 0.2832366, 37.962, "NLSC", 16)
txt(6, 0.2832663, 38.021, "CLSC", 16)
txt(6, 0.2831146, 37.954, "(f)", 30, bold=True, italic=True)

# last x tick label of right-column panels, right-aligned to the frame
for (top, bot) in ROWS_R:
    ptxt(R1, bot + 6, "0.2833", 16, xanchor="right", yanchor="top")

# axis titles (paper coords)
HF = "<sup>176</sup>Hf/<sup>177</sup>Hf"
ptxt(27, 196, "<sup>206</sup>Pb/<sup>204</sup>Pb", 36, -90)
ptxt(612, 192, "<sup>206</sup>Pb/<sup>204</sup>Pb", 36, -90)
ptxt(28, 640, "<sup>207</sup>Pb/<sup>204</sup>Pb", 34, -90)
ptxt(612, 643, "<sup>207</sup>Pb/<sup>204</sup>Pb", 34, -90)
ptxt(32, 1045, "<sup>208</sup>Pb/<sup>204</sup>Pb", 28, -90)
ptxt(614, 1046, "<sup>208</sup>Pb/<sup>204</sup>Pb", 28, -90)
ptxt((L0 + L1) / 2, ROWS[0][1] + 44, HF, 25)
ptxt((R0 + R1) / 2, ROWS_R[0][1] + 43, HF, 25)
ptxt((L0 + L1) / 2, ROWS[1][1] + 44, HF, 25)
ptxt((R0 + R1) / 2, ROWS_R[1][1] + 43, HF, 25)
ptxt((L0 + L1) / 2, ROWS[2][1] + 43, HF, 25)
ptxt((R0 + R1) / 2, ROWS_R[2][1] + 43, HF, 25)

fig.update_layout(
    width=W, height=H, margin=dict(l=0, r=0, t=0, b=0),
    paper_bgcolor="white", plot_bgcolor="white", showlegend=False,
    shapes=shapes, annotations=ann, font=dict(family=FONT, color=TXT),
    **layout_axes,
)

fig.write_html("out.html", config={"displayModeBar": False},
               post_script="document.body.style.margin='0px';")
